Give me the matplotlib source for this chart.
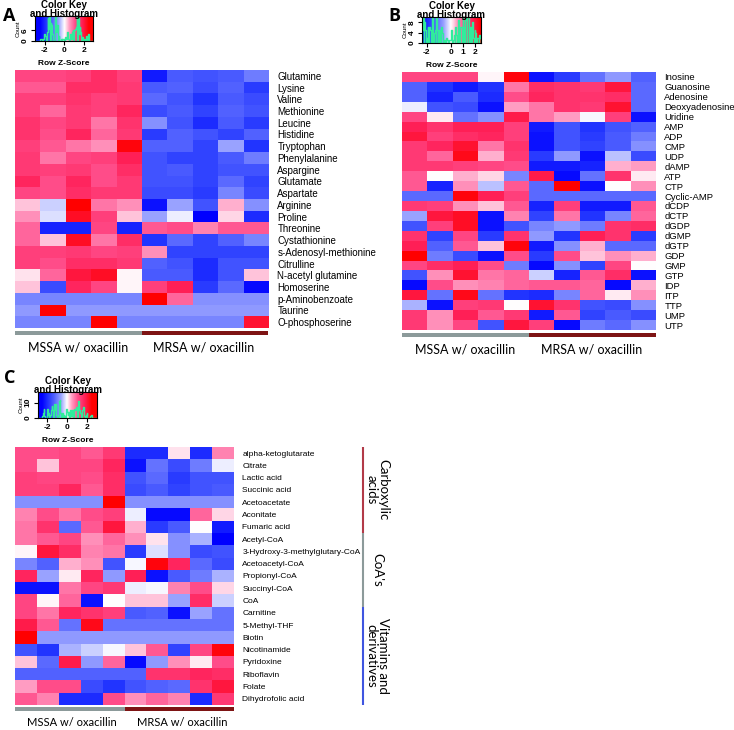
import numpy as np
import matplotlib
matplotlib.use('Agg')
import matplotlib.pyplot as plt
from matplotlib.colors import LinearSegmentedColormap

plt.rcParams['font.family'] = ['Liberation Sans', 'DejaVu Sans']

# ---------------- data (row z-scores) ----------------
groups = ['MSSA w/ oxacillin', 'MRSA w/ oxacillin']

labels_a = ['Glutamine', 'Lysine', 'Valine', 'Methionine', 'Leucine', 'Histidine',
            'Tryptophan', 'Phenylalanine', 'Aspargine', 'Glutamate', 'Aspartate',
            'Arginine', 'Proline', 'Threonine', 'Cystathionine', 's-Adenosyl-methionine',
            'Citrulline', 'N-acetyl glutamine', 'Homoserine', 'p-Aminobenzoate',
            'Taurine', 'O-phosphoserine']
values_a = [
    [1.2, 1.2, 1.3, 1.6, 1.3, -2.2, -1.4, -1.5, -1.4, -1.0],
    [1.0, 1.0, 1.6, 1.6, 1.4, -1.4, -1.3, -1.6, -1.3, -1.8],
    [1.3, 1.3, 1.5, 1.3, 1.4, -1.2, -1.5, -1.9, -1.4, -1.6],
    [1.3, 0.9, 1.4, 1.3, 1.7, -1.6, -1.4, -1.7, -1.3, -1.5],
    [1.5, 1.2, 1.4, 0.8, 1.5, -0.8, -1.5, -2.0, -1.4, -1.8],
    [1.5, 1.1, 1.7, 0.9, 1.4, -1.8, -1.3, -1.5, -1.7, -1.3],
    [1.3, 1.0, 0.8, 0.6, 2.4, -1.3, -1.3, -1.7, -0.6, -1.9],
    [1.4, 0.8, 1.2, 1.3, 1.8, -1.5, -1.7, -1.7, -1.4, -1.0],
    [1.4, 1.3, 1.4, 1.1, 1.6, -1.5, -1.4, -1.7, -1.5, -1.5],
    [1.7, 1.1, 1.7, 1.1, 1.4, -1.5, -1.5, -1.7, -1.2, -1.7],
    [1.2, 1.1, 1.6, 1.4, 1.4, -1.6, -1.6, -1.8, -0.9, -1.6],
    [0.3, -0.3, 2.5, 0.8, 0.6, -2.3, -0.6, -1.5, 0.4, -0.8],
    [0.6, -0.2, 2.2, 1.3, 0.3, -0.6, -0.1, -2.5, 0.2, -2.0],
    [0.9, -2.1, -2.1, 1.2, -2.1, 1.0, 1.1, 0.7, 1.0, 1.0],
    [0.9, 0.3, 2.2, 0.8, 1.6, -1.9, -1.2, -1.7, -1.3, -0.9],
    [1.3, 1.3, 1.4, 1.2, 1.3, 0.6, -1.7, -1.7, -1.7, -1.7],
    [1.3, 1.1, 1.6, 1.6, 1.4, -1.3, -1.5, -2.0, -1.5, -1.5],
    [0.15, 0.9, 2.0, 2.2, 0.05, -1.4, -1.4, -2.0, -1.5, 0.3],
    [0.3, -1.6, 1.7, 1.2, 0.05, 1.3, 1.8, -1.8, -1.2, -2.4],
    [-0.9, -0.9, -0.9, -0.9, -0.9, 2.5, 0.9, -0.8, -0.8, -0.8],
    [-0.7, 2.5, -0.7, -0.7, -0.7, -0.7, -0.7, -0.7, -0.7, -0.7],
    [-0.9, -0.9, -0.9, 2.5, -0.9, -0.9, -0.9, -0.9, -0.9, 2.1],
]

labels_b = ['Inosine', 'Guanosine', 'Adenosine', 'Deoxyadenosine', 'Uridine', 'AMP',
            'ADP', 'CMP', 'UDP', 'dAMP', 'ATP', 'CTP', 'Cyclic-AMP', 'dCDP', 'dCTP',
            'dGDP', 'dGMP', 'dGTP', 'GDP', 'GMP', 'GTP', 'IDP', 'ITP', 'TTP', 'UMP', 'UTP']
values_b = [
    [1.2, 1.2, 1.2, 0.05, 2.4, -2.3, -1.8, -1.1, -0.7, -1.3],
    [-1.3, -1.9, -2.2, -1.9, 0.8, 1.6, 1.5, 1.4, 2.0, -1.2],
    [-1.3, -2.1, -1.4, -2.0, 1.1, 1.7, 1.5, 1.5, 1.6, -1.2],
    [-0.1, -1.5, -1.6, -2.3, 0.5, 0.8, 1.5, 1.4, 2.1, -1.2],
    [1.2, 0.1, -1.1, -0.8, 1.9, 0.8, 0.5, -0.05, 1.3, -2.3],
    [1.8, 1.5, 1.8, 1.8, 1.3, -2.2, -1.5, -1.9, -1.5, -1.3],
    [2.0, 1.3, 1.6, 1.7, 1.3, -2.3, -1.5, -1.8, -1.4, -1.0],
    [1.4, 1.7, 2.1, 0.8, 1.5, -2.3, -1.5, -1.7, -1.4, -0.8],
    [1.4, 0.9, 2.3, 0.4, 1.4, -1.8, -0.7, -2.3, -0.4, -1.6],
    [1.4, 1.4, 1.3, 1.2, 1.1, -2.2, -2.2, -2.1, 0.4, 0.5],
    [1.0, 0.0, 0.4, 0.2, -0.9, 1.9, -2.4, -1.1, 1.5, 0.1],
    [1.0, -2.1, 0.6, -0.4, 1.0, -1.2, 2.5, -2.3, 0.0, 0.6],
    [-1.2, -1.2, 2.4, 1.8, 1.3, -1.2, -1.2, -1.2, -1.2, -1.2],
    [1.4, 1.3, 0.6, 0.3, 1.0, -2.1, 1.3, -2.2, -2.2, 1.0],
    [-0.6, 2.0, 2.2, -2.3, 0.7, -1.7, 0.8, -1.9, -0.9, 0.9],
    [-1.5, 1.3, 2.2, -2.3, -1.5, -0.9, -0.7, -1.0, 1.5, 1.6],
    [1.5, -1.7, 1.2, -1.8, 1.5, -0.7, -1.9, 1.8, 1.5, -1.8],
    [1.8, -1.3, 1.0, 0.3, 2.4, -2.2, -0.8, 0.4, -1.2, -1.2],
    [2.5, -1.0, -1.6, -2.3, 1.1, -1.8, 1.1, 0.3, 0.6, 0.4],
    [1.2, 1.6, 1.8, 1.1, -1.0, -2.4, -0.8, -1.7, 1.2, 0.0],
    [-1.5, 0.6, 2.1, 0.8, 0.9, -0.3, -2.1, 1.0, 1.6, -2.3],
    [-2.4, 1.1, 0.6, 0.7, 0.9, 1.0, 1.0, 0.9, -2.4, 0.4],
    [2.0, -1.1, 2.3, -1.1, -1.9, -2.0, -0.9, 0.9, 0.1, 0.6],
    [-0.5, -2.3, 1.3, 1.4, 0.0, 2.1, 1.5, -1.5, -1.6, -0.8],
    [1.4, 0.6, 1.8, 1.0, 1.4, -2.2, 1.0, -1.7, -1.4, -1.6],
    [1.4, 0.6, 1.2, -1.5, 2.0, 1.3, -2.4, -1.0, -1.2, -0.8],
]

labels_c = ['alpha-ketoglutarate', 'Citrate', 'Lactic acid', 'Succinic acid',
            'Acetoacetate', 'Aconitate', 'Fumaric acid', 'Acetyl-CoA',
            '3-Hydroxy-3-methylglutary-CoA', 'Acetoacetyl-CoA', 'Propionyl-CoA',
            'Succinyl-CoA', 'CoA', 'Carnitine', '5-Methyl-THF', 'Biotin',
            'Nicotinamide', 'Pyridoxine', 'Riboflavin', 'Folate', 'Dihydrofolic acid']
values_c = [
    [1.1, 1.1, 1.2, 1.0, 1.4, -2.0, -2.0, 0.15, -2.0, 0.7],
    [1.1, 0.3, 1.2, 1.2, 1.7, -2.3, -1.1, -1.6, -1.0, -0.1],
    [1.3, 1.2, 1.2, 1.1, 1.6, -1.5, -1.2, -1.8, -1.5, -1.5],
    [1.3, 1.3, 1.7, 1.0, 1.6, -1.6, -1.4, -1.7, -1.5, -1.4],
    [-0.8, -0.8, -0.8, -0.8, 2.5, -0.8, -0.8, -0.8, -0.8, -0.8],
    [0.7, 1.1, 0.8, 1.1, 1.3, -0.1, -2.4, -2.4, 0.9, 0.2],
    [0.8, 1.5, -1.2, 1.0, 2.0, 0.4, -1.8, -1.4, 0.0, -2.2],
    [0.8, 1.0, 1.2, 0.6, 0.9, 0.6, 0.15, -0.8, -0.5, -2.5],
    [0.05, 2.0, 1.6, 0.7, 0.8, -1.8, -0.2, -0.8, -1.6, -1.5],
    [-0.9, -1.3, 0.4, 0.6, -1.5, -0.05, 2.4, 1.7, -1.2, -1.6],
    [1.7, -0.6, 0.1, 1.7, -0.7, 1.8, -2.3, -1.4, -1.0, -0.5],
    [-2.3, -2.3, 0.8, 1.2, 1.4, -0.1, -0.05, 0.7, 1.1, 0.2],
    [1.2, 0.05, 0.9, -2.3, 0.0, 0.3, 0.3, -0.6, 1.6, -0.3],
    [1.2, 0.8, 1.7, 1.5, 1.3, -1.4, -1.3, -2.3, -0.6, -1.1],
    [1.9, 1.0, -1.1, 2.3, -1.1, -1.1, -1.1, -1.1, -1.1, -1.1],
    [2.5, -0.7, -0.7, -0.7, -0.7, -0.7, -0.7, -0.7, -0.7, -0.7],
    [-1.5, -1.9, -0.5, -0.3, -0.05, 0.3, 1.0, -1.7, 1.2, 2.4],
    [0.3, -1.2, 1.9, -0.7, 0.9, -2.4, -0.7, 0.6, 0.1, 1.1],
    [-1.3, -1.3, -1.3, -1.3, -1.3, -1.3, 1.5, 1.5, 1.7, 1.6],
    [0.5, 1.1, 1.1, -1.6, -1.9, -1.5, -1.3, -1.2, 1.5, 2.0],
    [1.0, 0.7, -2.0, -2.0, 1.1, 0.6, 0.9, 0.7, -2.0, 1.4],
]

class_names = ['Carboxylic\nacids', "CoA's", 'Vitamins and\nderivatives']
class_rows = [7, 6, 8]

# ---------------- styling ----------------
W, H = 734, 730
cmap = LinearSegmentedColormap.from_list('key', [
    (0.0, '#0000FF'), (0.12, '#2235FF'), (0.25, '#5565FF'), (0.38, '#99A2FF'),
    (0.5, '#FFFFFF'), (0.6, '#FF9CC2'), (0.72, '#FF4C8A'), (0.86, '#FF2058'),
    (1.0, '#FF0000')])
hist_col = '#30EC9C'
gray_col = '#8C9A9A'
red_col = '#7E1414'
label_font = ['Lato', 'DejaVu Sans']


def box(x0, y0, x1, y1):
    return [x0 / W, 1 - y1 / H, (x1 - x0) / W, (y1 - y0) / H]


def draw_heatmap(fig, values, labels, x0, y0, x1, y1, fs=7):
    ax = fig.add_axes(box(x0, y0, x1, y1))
    arr = np.array(values)
    ax.pcolormesh(arr, cmap=cmap, vmin=-2.5, vmax=2.5)
    ax.set_xlim(0, arr.shape[1])
    ax.set_ylim(arr.shape[0], 0)
    ax.set_yticks(np.arange(len(labels)) + 0.5)
    ax.set_yticklabels(labels, fontsize=fs)
    ax.yaxis.tick_right()
    ax.tick_params(axis='y', length=0, pad=6)
    ax.set_xticks([])
    for s in ax.spines.values():
        s.set_visible(False)
    return ax


def draw_groups(fig, x0, x1, y0, y1, ytext, xtexts, fs):
    ax = fig.add_axes(box(x0, y0, x1, y1))
    ax.bar([0, 1], [1, 1], width=1, align='edge', color=[gray_col, red_col])
    ax.set_xlim(0, 2)
    ax.set_ylim(0, 1)
    ax.axis('off')
    for name, xc in zip(groups, xtexts):
        fig.text(xc / W, 1 - ytext / H, name, ha='center', va='center',
                 fontsize=fs, family=label_font)


def draw_key(fig, values, x0, y0, x1, y1, lo, hi, ymax, xticks, yticks, letter, lx, ly):
    ax = fig.add_axes(box(x0, y0, x1, y1))
    flat = np.ravel(values)
    counts, edges = np.histogram(flat, bins=np.linspace(lo, hi, 75))
    grad = np.linspace(lo, hi, 256)[None, :]
    ax.imshow(grad, cmap=cmap, aspect='auto', extent=[lo, hi, 0, ymax],
              vmin=-2.5, vmax=2.5)
    ax.step(edges[:-1], counts, where='post', color=hist_col, lw=1)
    ax.set_xlim(lo, hi)
    ax.set_ylim(0, ymax)
    ax.set_xticks(xticks)
    ax.set_xticklabels([str(t) for t in xticks], fontsize=6, fontweight='bold')
    ax.set_yticks(yticks)
    ax.set_yticklabels([str(t) for t in yticks], fontsize=6, fontweight='bold',
                       rotation=90, va='center')
    ax.tick_params(length=3, width=0.8, pad=1.5)
    ax.set_xlabel('Row Z-Score', fontsize=6, fontweight='bold', labelpad=4)
    ax.set_ylabel('Count', fontsize=4.5, labelpad=1)
    for s in ax.spines.values():
        s.set_linewidth(0.8)
    xc = (x0 + x1) / 2 / W
    fig.text(xc, 1 - (y0 - 11) / H, 'Color Key', fontsize=7, fontweight='bold',
             ha='center', va='center')
    fig.text(xc, 1 - (y0 - 2) / H, 'and Histogram', fontsize=7, fontweight='bold',
             ha='center', va='center')
    fig.text(lx / W, 1 - ly / H, letter, fontsize=13, fontweight='bold',
             ha='left', va='center', family=['Open Sans', 'DejaVu Sans'])


fig = plt.figure(figsize=(W / 100, H / 100), dpi=100)

# panel A
draw_key(fig, values_a, 35, 16, 93, 41, -3.0, 2.9, 14, [-2, 0, 2], [0, 6], 'A', 3, 16)
draw_heatmap(fig, values_a, labels_a, 15, 70, 269, 328)
draw_groups(fig, 15, 268, 331, 335, 347, [78, 204], 9)

# panel B
draw_key(fig, values_b, 422, 17, 481, 43, -2.4, 2.5, 10, [-2, 0, 1, 2], [0, 4, 8], 'B', 388, 16)
draw_heatmap(fig, values_b, labels_b, 402, 72, 656, 330, fs=6.8)
draw_groups(fig, 402, 656, 333, 337, 350, [465, 592], 9)

# panel C
draw_key(fig, values_c, 38, 392, 97, 418, -2.9, 3.0, 17, [-2, 0, 2], [0, 10], 'C', 4, 378)
draw_heatmap(fig, values_c, labels_c, 15, 447, 234, 705, fs=6)
draw_groups(fig, 15, 234, 707, 711, 723, [72, 182], 8)

# class brackets next to panel C
line_ax = fig.add_axes(box(340, 447, 400, 705))
line_ax.set_xlim(0, 1)
line_ax.set_ylim(sum(class_rows), 0)
line_ax.axis('off')
class_cols = ['#B23A48', gray_col, '#3F55E0']
start = 0
for name, n, col in zip(class_names, class_rows, class_cols):
    line_ax.plot([0.38, 0.38], [start, start + n], color=col, lw=1.5,
                 solid_capstyle='butt')
    line_ax.text(0.62, start + n / 2, name, rotation=-90, ha='center', va='center',
                 fontsize=9.5, family=label_font, linespacing=1.0)
    start += n

fig.savefig('out.png', dpi=100)
